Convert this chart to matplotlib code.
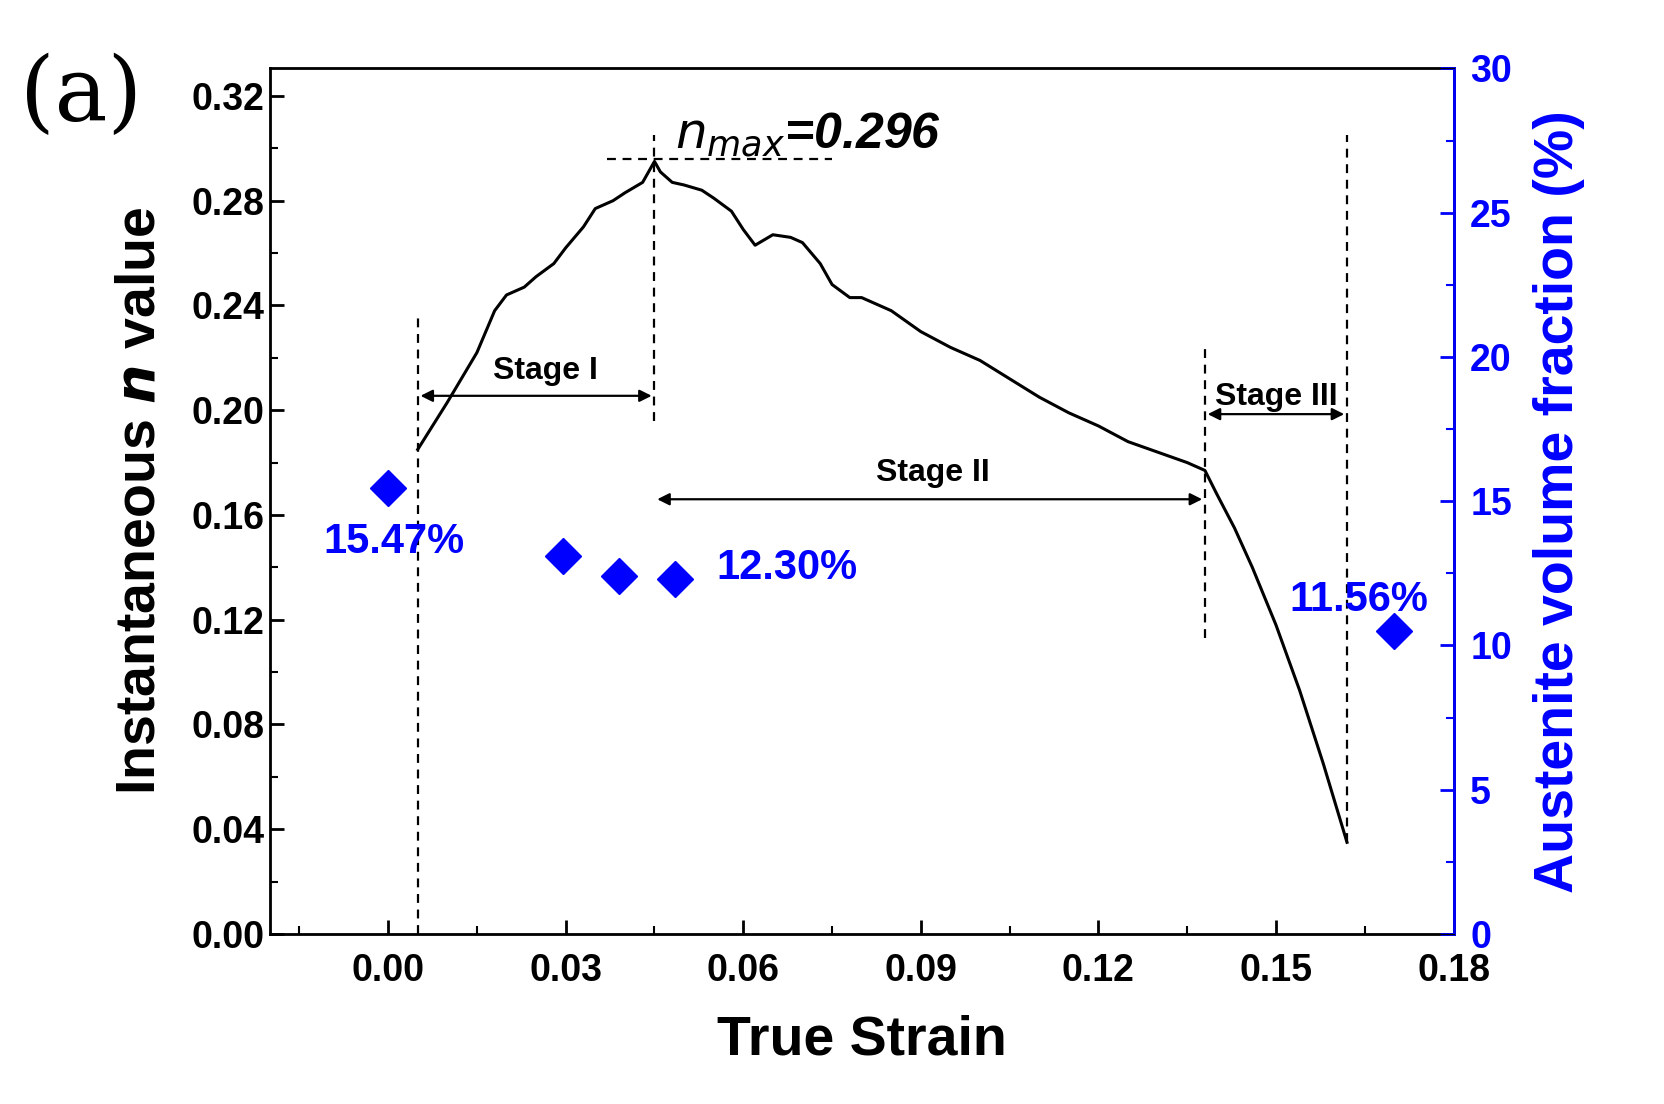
import matplotlib
matplotlib.use("Agg")
import matplotlib.pyplot as plt
from matplotlib.ticker import MultipleLocator

strain = [0.005,0.010,0.015,0.018,0.020,0.023,0.025,0.028,0.030,0.033,0.035,0.038,0.040,0.043,0.045,0.046,0.048,0.050,0.053,0.055,0.058,0.060,0.062,0.065,0.068,0.070,0.073,0.075,0.078,0.080,0.085,0.090,0.095,0.100,0.105,0.110,0.115,0.120,0.125,0.130,0.135,0.138,0.140,0.143,0.146,0.150,0.154,0.158,0.162]
n_val  = [0.185,0.203,0.222,0.238,0.244,0.247,0.251,0.256,0.262,0.270,0.277,0.280,0.283,0.287,0.295,0.291,0.287,0.286,0.284,0.281,0.276,0.269,0.263,0.267,0.266,0.264,0.256,0.248,0.243,0.243,0.238,0.230,0.224,0.219,0.212,0.205,0.199,0.194,0.188,0.184,0.180,0.177,0.168,0.155,0.140,0.118,0.093,0.065,0.035]
aus_x = [0.0, 0.0295, 0.039, 0.0485, 0.170]
aus_y = [15.47, 13.1, 12.4, 12.3, 10.5]

plt.rcParams['font.family'] = ['Liberation Sans', 'DejaVu Sans']
fig = plt.figure(figsize=(16.65, 11.04), dpi=100)
ax = fig.add_axes([0.162, 0.154, 0.711, 0.784])
ax.plot(strain, n_val, color='black', lw=2.2)
ax.set_xlim(-0.02, 0.18)
ax.set_ylim(0, 0.3305)
ax.xaxis.set_minor_locator(MultipleLocator(0.015))
ax.yaxis.set_minor_locator(MultipleLocator(0.02))
ax.set_xticks([0,0.03,0.06,0.09,0.12,0.15,0.18])
ax.set_xticklabels(['0.00','0.03','0.06','0.09','0.12','0.15','0.18'])
ax.set_yticks([0,0.04,0.08,0.12,0.16,0.20,0.24,0.28,0.32])
ax.set_yticklabels(['0.00','0.04','0.08','0.12','0.16','0.20','0.24','0.28','0.32'])
ax.tick_params(which='major', direction='in', length=10, width=2, labelsize=27)
ax.tick_params(axis='x', which='major', pad=14)
ax.tick_params(which='minor', direction='in', length=6, width=1.5)
for lab in ax.get_xticklabels()+ax.get_yticklabels():
    lab.set_fontweight('bold')
for s in ax.spines.values():
    s.set_linewidth(2)
ax.set_xlabel('True Strain', fontsize=40, fontweight='bold', labelpad=18)
ax.set_ylabel('Instantaneous $\\boldsymbol{n}$ value', fontsize=40, fontweight='bold', labelpad=18)

dk = dict(color='black', ls=(0,(4,3)), lw=1.6)
ax.plot([0.005,0.005],[0,0.237],**dk)
ax.plot([0.045,0.045],[0.196,0.305],**dk)
ax.plot([0.138,0.138],[0.113,0.225],**dk)
ax.plot([0.162,0.162],[0.035,0.305],**dk)
ax.plot([0.037,0.075],[0.296,0.296],**dk)
ap = dict(arrowstyle='<|-|>', color='black', lw=1.6, mutation_scale=18)
ax.annotate('', xy=(0.005,0.2055), xytext=(0.045,0.2055), arrowprops=ap)
ax.annotate('', xy=(0.045,0.166), xytext=(0.138,0.166), arrowprops=ap)
ax.annotate('', xy=(0.138,0.1985), xytext=(0.162,0.1985), arrowprops=ap)
ax.text(0.0265,0.212,'Stage I',fontsize=23,fontweight='bold',ha='center')
ax.text(0.092,0.173,'Stage II',fontsize=23,fontweight='bold',ha='center')
ax.text(0.150,0.202,'Stage III',fontsize=23,fontweight='bold',ha='center')
ax.text(0.0485,0.300,'$\\boldsymbol{n_{max}}$=0.296',fontsize=36,fontweight='bold',fontstyle='italic')

ax2 = ax.twinx()
ax2.set_ylim(0, 30)
ax2.plot(aus_x, aus_y, 'D', color='blue', ms=18, ls='none', clip_on=False)
ax2.yaxis.set_major_locator(MultipleLocator(5))
ax2.yaxis.set_minor_locator(MultipleLocator(2.5))
ax2.tick_params(which='major', direction='in', length=10, width=2, labelsize=27, colors='blue', pad=12)
ax2.tick_params(which='minor', direction='in', length=6, width=1.5, colors='blue')
for lab in ax2.get_yticklabels():
    lab.set_fontweight('bold')
ax2.spines['right'].set_color('blue')
ax2.spines['right'].set_linewidth(2)
ax2.set_ylabel('Austenite volume fraction (%)', fontsize=40, fontweight='bold', color='blue', labelpad=15)
ax2.text(0.001,13.2,'15.47%',color='blue',fontsize=30,fontweight='bold',ha='center')
ax2.text(0.0555,12.3,'12.30%',color='blue',fontsize=30,fontweight='bold')
ax2.text(0.164,11.2,'11.56%',color='blue',fontsize=30,fontweight='bold',ha='center')

fig.text(0.012,0.89,'(a)',fontsize=64,family='DejaVu Serif')
fig.savefig('out.png', dpi=100)
